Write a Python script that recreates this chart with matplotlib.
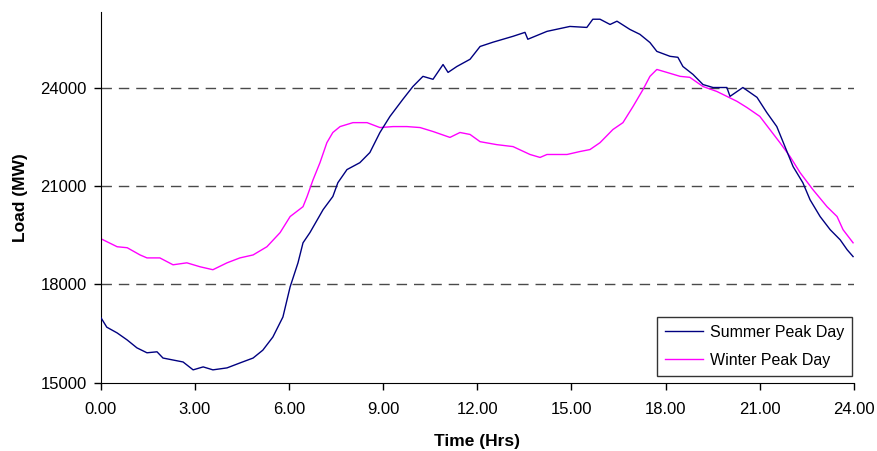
import numpy as np
import matplotlib
matplotlib.use("Agg")
from matplotlib import pyplot as plt

plt.rcParams['font.family'] = ['Liberation Sans', 'DejaVu Sans']

# summer peak day (hours, MW)
summer_hrs = [0.02, 0.20, 0.53, 0.85, 1.16, 1.48, 1.80, 1.99, 2.31, 2.63, 2.95, 3.27,
              3.58, 4.03, 4.44, 4.86, 5.17, 5.49, 5.81, 6.04, 6.29, 6.45, 6.67, 7.09,
              7.40, 7.56, 7.85, 8.26, 8.58, 8.90, 9.22, 9.63, 9.95, 10.27, 10.59, 10.91,
              11.07, 11.35, 11.77, 12.09, 12.50, 13.14, 13.52, 13.61, 14.22, 14.95, 15.49,
              15.68, 15.91, 16.23, 16.45, 16.86, 17.18, 17.50, 17.72, 18.14, 18.39, 18.55,
              18.87, 19.19, 19.51, 19.95, 20.05, 20.46, 20.91, 21.22, 21.54, 21.80, 22.06,
              22.37, 22.60, 22.92, 23.24, 23.56, 23.78, 23.97]
summer_mw = [16980, 16700, 16525, 16310, 16070, 15920, 15950, 15760, 15700, 15640, 15400, 15490,
             15400, 15460, 15610, 15760, 16000, 16400, 17010, 17930, 18660, 19270, 19580, 20280,
             20680, 21100, 21500, 21710, 22020, 22630, 23120, 23640, 24030, 24340, 24250, 24700,
             24460, 24640, 24860, 25250, 25380, 25560, 25680, 25470, 25710, 25860, 25830,
             26080, 26080, 25920, 26020, 25770, 25620, 25370, 25100, 24950, 24920, 24640,
             24400, 24090, 24000, 24000, 23730, 24000, 23700, 23240, 22810, 22200, 21590,
             21100, 20580, 20070, 19670, 19360, 19060, 18850]

# winter peak day
winter_hrs = [0.02, 0.53, 0.85, 1.26, 1.48, 1.89, 2.31, 2.75, 3.17, 3.58, 4.03, 4.44,
              4.86, 5.30, 5.72, 6.04, 6.45, 6.58, 6.77, 6.99, 7.21, 7.40, 7.63, 8.04,
              8.49, 8.90, 9.32, 9.76, 10.18, 10.59, 11.13, 11.45, 11.77, 12.09, 12.62,
              13.14, 13.68, 14.00, 14.22, 14.86, 15.27, 15.59, 15.91, 16.32, 16.64, 16.96,
              17.28, 17.50, 17.72, 18.04, 18.46, 18.77, 19.19, 19.63, 19.95, 20.27, 20.59,
              21.00, 21.32, 21.64, 21.96, 22.28, 22.69, 23.14, 23.46, 23.65, 23.97]
winter_mw = [19390, 19150, 19120, 18900, 18810, 18810, 18600, 18660, 18540, 18450, 18660, 18810,
             18900, 19150, 19580, 20070, 20370, 20680, 21190, 21710, 22320, 22630, 22810, 22930,
             22930, 22780, 22810, 22810, 22780, 22660, 22480, 22630, 22570, 22350, 22260,
             22200, 21960, 21870, 21960, 21960, 22050, 22110, 22320, 22720, 22930, 23420,
             23940, 24340, 24550, 24460, 24340, 24310, 24030, 23880, 23730, 23580, 23390,
             23120, 22720, 22320, 21900, 21410, 20890, 20370, 20070, 19670, 19270]

x_ticks = np.arange(0, 25, 3)
y_ticks = [15000, 18000, 21000, 24000]

fig = plt.figure(figsize=(8.77, 4.51), dpi=100)
ax = fig.add_axes([0.1146, 0.1508, 0.8592, 0.8226])

for y in y_ticks[1:]:
    ax.axhline(y, color="#4a4a4a", lw=1.0, ls=(0, (7.5, 5)), zorder=1)

ax.plot(summer_hrs, summer_mw, color="#000080", lw=1.0, label="Summer Peak Day", zorder=3)
ax.plot(winter_hrs, winter_mw, color="#FF00FF", lw=1.0, label="Winter Peak Day", zorder=2)

ax.set_xlim(0, 24)
ax.set_ylim(15000, 26300)
ax.set_xticks(x_ticks)
ax.set_xticklabels(["{:.2f}".format(v) for v in x_ticks])
ax.set_yticks(y_ticks)
ax.tick_params(labelsize=12, length=5, width=1, color="black")
ax.tick_params(axis="x", pad=9)
ax.tick_params(axis="y", pad=5)
ax.spines["top"].set_visible(False)
ax.spines["right"].set_visible(False)
ax.spines["left"].set_color("black")
ax.spines["bottom"].set_color("black")

ax.set_xlabel("Time (Hrs)", fontsize=12.5, fontweight="bold", labelpad=12)
ax.set_ylabel("Load (MW)", fontsize=12.5, fontweight="bold", labelpad=9)

leg = ax.legend(loc="lower right", fontsize=11.5, frameon=True, fancybox=False,
                edgecolor="black", handlelength=2.4, handletextpad=0.4,
                borderaxespad=0, borderpad=0.5, labelspacing=0.8,
                bbox_to_anchor=(0.9973, 0.0197))
leg.get_frame().set_linewidth(1.0)

fig.savefig("out.png", dpi=100)
